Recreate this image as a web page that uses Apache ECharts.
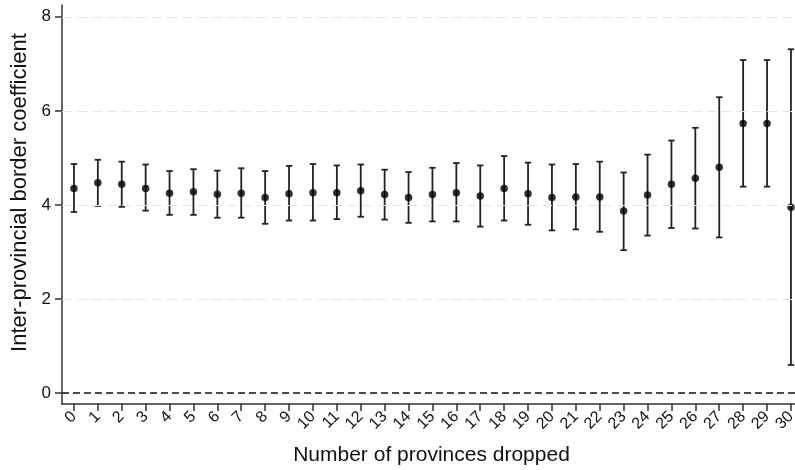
<!DOCTYPE html>
<html>
<head>
<meta charset="utf-8">
<script src="https://cdn.jsdelivr.net/npm/echarts@6/dist/echarts.min.js"></script>
<style>html,body{margin:0;padding:0;background:#fff}#c{width:795px;height:470px}</style>
</head>
<body>
<div id="c"></div>
<script>
var categories = [0,1,2,3,4,5,6,7,8,9,10,11,12,13,14,15,16,17,18,19,20,21,22,23,24,25,26,27,28,29,30];
var estimates = [4.35,4.47,4.44,4.35,4.25,4.28,4.23,4.25,4.16,4.24,4.26,4.26,4.30,4.22,4.16,4.22,4.26,4.19,4.35,4.24,4.16,4.17,4.17,3.87,4.21,4.44,4.57,4.80,5.73,5.73,3.95];
var lower = [3.85,3.98,3.96,3.88,3.79,3.79,3.73,3.73,3.60,3.67,3.67,3.70,3.75,3.69,3.62,3.65,3.65,3.54,3.67,3.58,3.46,3.48,3.43,3.04,3.35,3.51,3.50,3.31,4.39,4.39,0.60];
var upper = [4.87,4.96,4.92,4.86,4.72,4.76,4.73,4.78,4.72,4.83,4.87,4.84,4.86,4.75,4.70,4.79,4.89,4.84,5.04,4.90,4.86,4.87,4.92,4.69,5.07,5.37,5.64,6.29,7.08,7.08,7.31];
var yTicks = [0,2,4,6,8];

var pointData = categories.map(function(c,i){return [c, estimates[i]];});
var barData = categories.map(function(c,i){return [c, lower[i], upper[i]];});

var chart = echarts.init(document.getElementById('c'));
var font = 'Liberation Sans, Arial, sans-serif';
chart.setOption({
  animation: false,
  grid: {left: 62, right: 0, top: 5, bottom: 66, containLabel: false, outerBoundsMode: 'none'},
  xAxis: {
    type: 'value', min: -0.5, max: 30.17,
    name: 'Number of provinces dropped', nameLocation: 'middle', nameGap: 41,
    nameTextStyle: {fontFamily: font, fontSize: 21, color: '#111', padding: [0, 0, 0, 6]},
    axisLine: {show: true, onZero: false, lineStyle: {color: '#333', width: 1.5}},
    axisTick: {show: true, inside: false, length: 7, customValues: categories, lineStyle: {color: '#333', width: 1.5}},
    axisLabel: {customValues: categories, rotate: 45, fontFamily: font, fontSize: 16, color: '#111', margin: 10},
    splitLine: {show: false}
  },
  yAxis: {
    type: 'value', min: -0.23, max: 8.25,
    name: 'Inter-provincial border coefficient', nameLocation: 'middle', nameGap: 31,
    nameTextStyle: {fontFamily: font, fontSize: 22, color: '#111', padding: [0, 0, 0, 24]},
    axisLine: {show: true, onZero: false, lineStyle: {color: '#333', width: 1.5}},
    axisTick: {show: true, inside: false, length: 7, customValues: yTicks, lineStyle: {color: '#333', width: 1.5}},
    axisLabel: {customValues: yTicks, fontFamily: font, fontSize: 17, color: '#111', margin: 11},
    splitLine: {show: false}
  },
  series: [
    {
      type: 'custom',
      data: barData,
      z: 3,
      renderItem: function(params, api){
        var x = api.value(0);
        var lo = api.coord([x, api.value(1)]);
        var hi = api.coord([x, api.value(2)]);
        var hw = 3.2;
        var st = {stroke: '#222', lineWidth: 1.8};
        return {type: 'group', children: [
          {type: 'line', shape: {x1: lo[0], y1: lo[1], x2: hi[0], y2: hi[1]}, style: st},
          {type: 'line', shape: {x1: lo[0]-hw, y1: lo[1], x2: lo[0]+hw, y2: lo[1]}, style: st},
          {type: 'line', shape: {x1: hi[0]-hw, y1: hi[1], x2: hi[0]+hw, y2: hi[1]}, style: st}
        ]};
      },
      markLine: {
        silent: true, symbol: 'none', label: {show: false},
        lineStyle: {color: '#e6e6e6', type: [10, 5], width: 1.2},
        data: [{yAxis: 2}, {yAxis: 4}, {yAxis: 6}, {yAxis: 8}]
      }
    },
    {
      type: 'scatter',
      data: pointData,
      symbol: 'circle', symbolSize: 7.5,
      itemStyle: {color: '#000'},
      z: 4,
      markLine: {
        silent: true, symbol: 'none', label: {show: false},
        lineStyle: {color: '#111', type: [7, 4], width: 1.5},
        data: [{yAxis: 0}]
      }
    }
  ]
});
</script>
</body>
</html>
